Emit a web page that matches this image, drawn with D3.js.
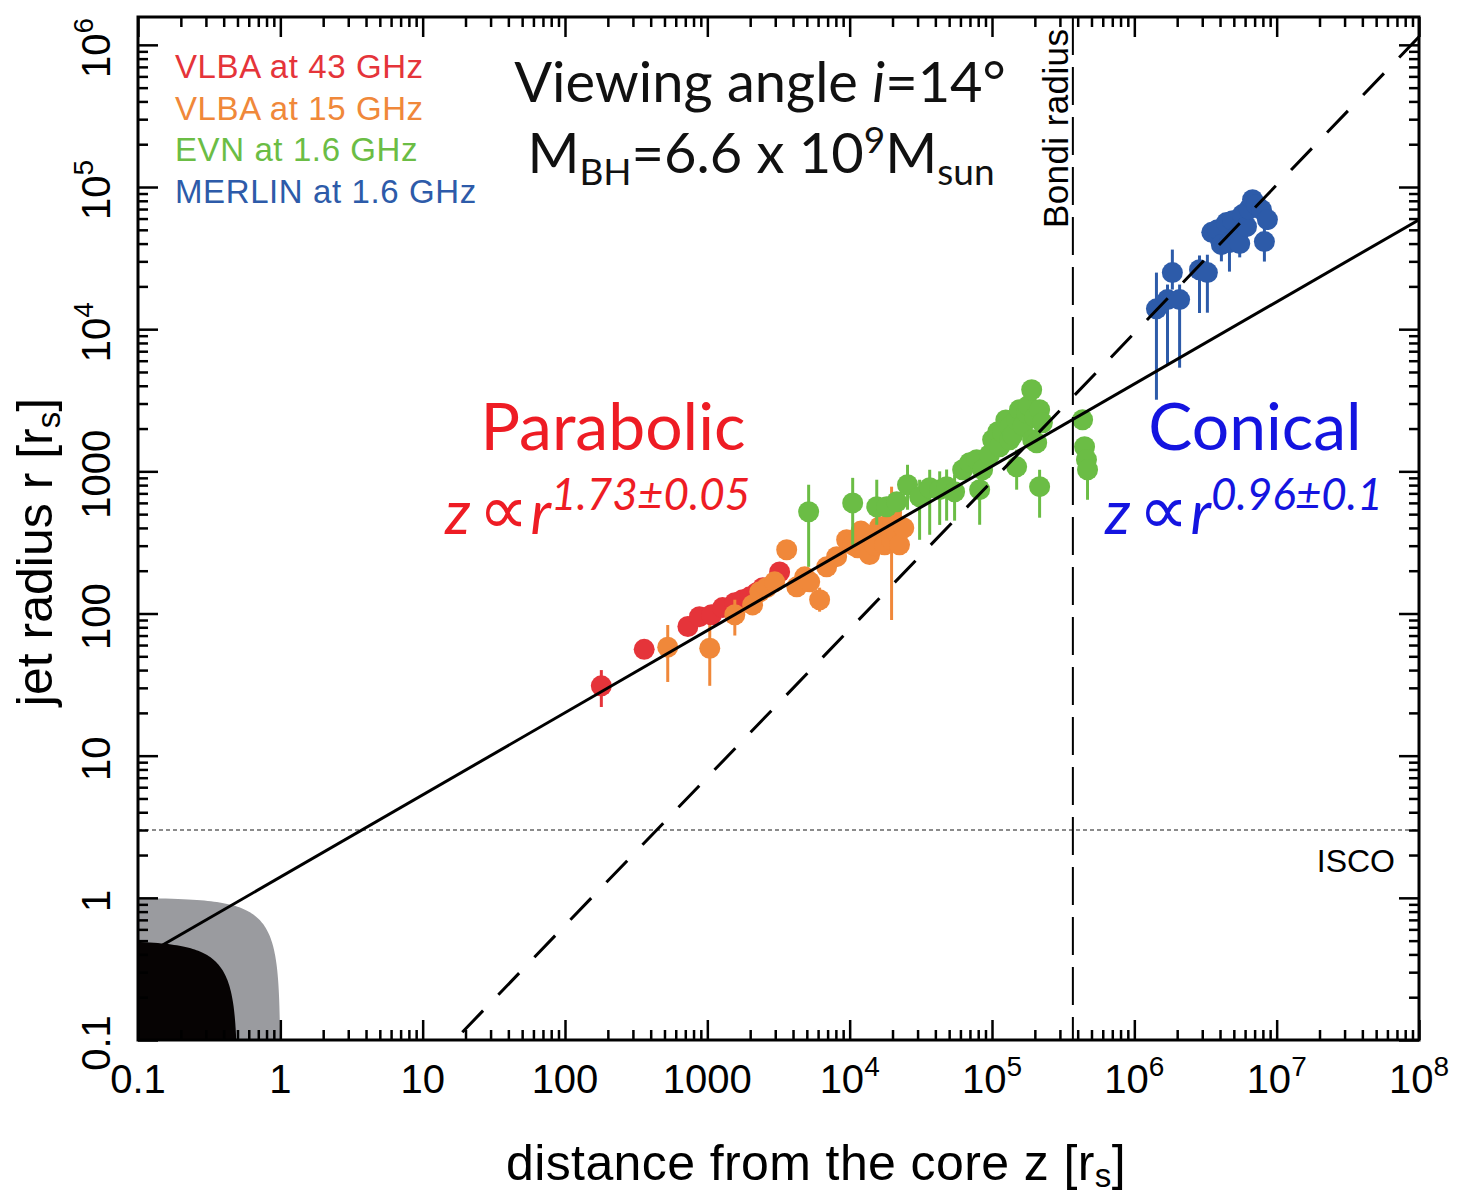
<!DOCTYPE html>
<html>
<head>
<meta charset="utf-8">
<script src="https://cdn.jsdelivr.net/npm/d3@7"></script>
<style>
body { margin: 0; background: #fff; }
</style>
</head>
<body>
<svg width="1462" height="1197"></svg>
<script>
// [z, r, r_low, r_high]  (z, r in units of r_s)
const vlba43 = [
  [180, 31, 22, 40], [360, 56, 50, 62], [730, 81, 75, 88], [880, 95, 88, 102],
  [1070, 98, 90, 106], [1280, 110, 102, 118], [1560, 119, 110, 128], [1770, 125, 116, 134],
  [1990, 131, 122, 140], [2220, 140, 130, 150], [2450, 152, 142, 162], [3220, 196, 182, 210]
];
const vlba15 = [
  [527, 58, 33, 83], [1040, 57, 31, 83], [1560, 98, 70, 125], [2080, 115, 100, 130],
  [2335, 142, 130, 155], [2610, 152, 140, 165], [2970, 167, 155, 180], [3610, 281, 260, 300],
  [4250, 154, 140, 168], [4830, 181, 165, 198], [5240, 167, 150, 185], [6150, 125, 103, 152],
  [6890, 213, 195, 232], [8100, 251, 230, 272], [9520, 330, 300, 360], [10500, 304, 280, 330],
  [11400, 290, 265, 315], [12000, 380, 350, 410], [13150, 358, 330, 390], [13800, 260, 240, 280],
  [14500, 330, 300, 360], [15000, 300, 275, 325], [16250, 408, 375, 440], [17600, 304, 280, 330],
  [18500, 420, 390, 450], [19700, 330, 90, 780], [19700, 510, 470, 550], [20000, 456, 420, 495],
  [21400, 370, 340, 400], [22400, 304, 280, 330], [24000, 400, 370, 430]
];
const evn16 = [
  [5150, 520, 213, 805], [10500, 600, 304, 900], [15500, 564, 421, 873], [18200, 564, 480, 660],
  [21400, 611, 520, 700], [25500, 805, 537, 1112], [31000, 662, 330, 873], [36500, 767, 358, 1026],
  [42900, 743, 420, 1000], [48000, 780, 450, 1030], [54600, 719, 450, 950], [62200, 1026, 900, 1150],
  [69700, 1151, 1000, 1300], [78000, 1208, 1050, 1350], [81900, 743, 421, 1026], [85900, 1026, 900, 1150],
  [96000, 1309, 1150, 1450], [101000, 1667, 1500, 1850], [110000, 1900, 1700, 2100], [113000, 1489, 1300, 1650],
  [118600, 1871, 1650, 2100], [125000, 2300, 2100, 2500], [133000, 2061, 1850, 2300], [133000, 1667, 1500, 1850],
  [140000, 1800, 1600, 2000], [149000, 2308, 2100, 2550], [149000, 1076, 743, 1419], [156000, 2716, 2450, 3000],
  [165000, 2100, 1900, 2300], [175000, 2585, 2300, 2850], [180000, 2900, 2600, 3200], [190000, 3750, 3400, 4100],
  [193000, 1667, 1450, 1900], [200000, 2400, 2150, 2650], [206000, 1588, 1400, 1800], [216000, 2716, 2450, 3000],
  [216000, 780, 472, 1026], [226000, 2198, 1950, 2450],
  [433000, 2308, 2100, 2550], [447000, 1489, 1300, 1650], [461000, 1208, 1050, 1350], [469000, 1026, 631, 1309]
];
const merlin16 = [
  [1.43e6, 13900, 3190, 25000], [1.71e6, 16150, 5620, 20600], [1.85e6, 25000, 19000, 36300],
  [2.08e6, 16150, 5360, 20600], [2.87e6, 26200, 13000, 33000], [3.26e6, 25000, 13060, 33400],
  [3.5e6, 48000, 40000, 56000], [3.84e6, 50100, 42000, 58000], [4.09e6, 39300, 30000, 46000],
  [4.44e6, 56200, 48000, 64000], [4.66e6, 40600, 25400, 51800], [4.9e6, 58000, 50000, 66000],
  [5.23e6, 44800, 36000, 52000], [5.5e6, 40000, 32000, 48000], [5.75e6, 64000, 55000, 72000],
  [6.14e6, 52600, 44000, 60000], [6.4e6, 70000, 60000, 80000], [6.77e6, 81500, 70000, 92000],
  [7.2e6, 75000, 65000, 85000], [7.82e6, 69300, 60000, 78000], [8.61e6, 59000, 50000, 68000],
  [8.2e6, 41300, 29900, 54300]
];

const seriesNames = ['VLBA at 43 GHz', 'VLBA at 15 GHz', 'EVN at 1.6 GHz', 'MERLIN at 1.6 GHz'];
const seriesColors = ['#e5343a', '#f0883a', '#6bbd45', '#2d5ba9'];

const xTicks = [0.1, 1, 10, 100, 1000, 1e4, 1e5, 1e6, 1e7, 1e8];
const xTickLabels = [['0.1'], ['1'], ['10'], ['100'], ['1000'], ['10', '4'], ['10', '5'], ['10', '6'], ['10', '7'], ['10', '8']];
const yTicks = [0.1, 1, 10, 100, 1000, 1e4, 1e5, 1e6];
const yTickLabels = [['0.1'], ['1'], ['10'], ['100'], ['1000'], ['10', '4'], ['10', '5'], ['10', '6']];

// fits: r = a * z^k
const parabolicFit = { a: 1.4, k: 0.578 };
const conicalFit = { a: 0.00528, k: 1.0417 };
const bondiRadius = 3.7e5;
const iscoRadius = 3;
const bhRadii = [1, 0.5];   // grey, black

const pL = 138, pR = 1419, pT = 17, pB = 1040;
const arial = 'Liberation Sans, Arial, Helvetica, sans-serif';
const calib = 'Lato, "Open Sans", sans-serif';

const svg = d3.select('svg');
svg.append('rect').attr('width', 1462).attr('height', 1197).attr('fill', '#fff');

const x = d3.scaleLog().domain([0.1, 1e8]).range([pL, pR]);
const y = d3.scaleLog().domain([0.1, 1.57e6]).range([pB, pT]);
const xc = x.copy().clamp(true);
const yc = y.copy().clamp(true);

svg.append('clipPath').attr('id', 'plot')
  .append('rect').attr('x', pL).attr('y', pT).attr('width', pR - pL).attr('height', pB - pT);

const plot = svg.append('g').attr('clip-path', 'url(#plot)');

// ISCO line
plot.append('line')
  .attr('x1', pL).attr('x2', pR)
  .attr('y1', y(iscoRadius)).attr('y2', y(iscoRadius))
  .attr('stroke', '#666').attr('stroke-width', 1.5).attr('stroke-dasharray', '4,3');

// black hole regions (circles in linear space drawn on log axes)
const quarter = d3.range(0, 91, 1).map(a => a * Math.PI / 180);
function bhPath(R) {
  const pts = [[0.1, 0.1]].concat(quarter.map(t => [Math.max(R * Math.cos(t), 1e-4), Math.max(R * Math.sin(t), 1e-4)]));
  return d3.line().x(d => xc(d[0])).y(d => yc(d[1]))(pts) + 'Z';
}
plot.append('path').attr('d', bhPath(bhRadii[0])).attr('fill', '#9a9b9f');

// data points
const allSeries = [vlba43, vlba15, evn16, merlin16];
allSeries.forEach((s, i) => {
  const g = plot.append('g');
  g.selectAll('line').data(s.filter(d => d[2] !== d[3])).join('line')
    .attr('x1', d => x(d[0])).attr('x2', d => x(d[0]))
    .attr('y1', d => y(d[2])).attr('y2', d => y(d[3]))
    .attr('stroke', seriesColors[i]).attr('stroke-width', 3);
  g.selectAll('circle').data(s).join('circle')
    .attr('cx', d => x(d[0])).attr('cy', d => y(d[1])).attr('r', 10.5)
    .attr('fill', seriesColors[i]);
});

// fit lines
function fitLine(f) {
  const zs = x.domain();
  return d3.line().x(d => x(d)).y(d => y(f.a * Math.pow(d, f.k)))(zs);
}
plot.append('path').attr('d', fitLine(parabolicFit))
  .attr('fill', 'none').attr('stroke', '#000').attr('stroke-width', 3);
plot.append('path').attr('d', fitLine(conicalFit))
  .attr('fill', 'none').attr('stroke', '#000').attr('stroke-width', 3).attr('stroke-dasharray', '30,22');

// Bondi radius
plot.append('line')
  .attr('x1', x(bondiRadius)).attr('x2', x(bondiRadius))
  .attr('y1', pT).attr('y2', pB)
  .attr('stroke', '#000').attr('stroke-width', 2).attr('stroke-dasharray', '38,12');

plot.append('path').attr('d', bhPath(bhRadii[1])).attr('fill', '#060303');

// frame + ticks
function minors(lo, hi) {
  const t = [];
  for (let e = lo; e < hi; e++) for (let m = 2; m < 10; m++) t.push(m * Math.pow(10, e));
  return t;
}
function ticks(axis, tr, vals, size) {
  svg.append('g').attr('transform', tr)
    .call(axis.tickValues(vals).tickSize(-size).tickFormat(''))
    .call(g => g.select('.domain').remove())
    .selectAll('line').attr('stroke', '#000').attr('stroke-width', 2.5);
}
const xMinor = minors(-1, 8), yMinor = minors(-1, 6);
ticks(d3.axisBottom(x), `translate(0,${pB})`, xTicks, 20);
ticks(d3.axisBottom(x), `translate(0,${pB})`, xMinor, 10);
ticks(d3.axisTop(x), `translate(0,${pT})`, xTicks, 20);
ticks(d3.axisTop(x), `translate(0,${pT})`, xMinor, 10);
ticks(d3.axisLeft(y), `translate(${pL},0)`, yTicks, 20);
ticks(d3.axisLeft(y), `translate(${pL},0)`, yMinor, 10);
ticks(d3.axisRight(y), `translate(${pR},0)`, yTicks, 20);
ticks(d3.axisRight(y), `translate(${pR},0)`, yMinor, 10);

svg.append('rect').attr('x', pL).attr('y', pT).attr('width', pR - pL).attr('height', pB - pT)
  .attr('fill', 'none').attr('stroke', '#000').attr('stroke-width', 3);

// tick labels
function label(sel, parts) {
  sel.append('tspan').text(parts[0]);
  if (parts[1]) sel.append('tspan').attr('dy', -17).attr('font-size', 28).text(parts[1]);
}
svg.append('g').attr('font-family', arial).attr('font-size', 40)
  .selectAll('text').data(xTicks).join('text')
  .attr('x', d => x(d)).attr('y', 1093).attr('text-anchor', 'middle')
  .each(function (d, i) { label(d3.select(this), xTickLabels[i]); });

svg.append('g').attr('font-family', arial).attr('font-size', 40)
  .selectAll('text').data(yTicks).join('text')
  .attr('transform', d => `translate(110,${y(d) + 3}) rotate(-90)`).attr('text-anchor', 'middle')
  .each(function (d, i) { label(d3.select(this), yTickLabels[i]); });

// axis titles
const xt = svg.append('text').attr('x', 816).attr('y', 1180).attr('text-anchor', 'middle')
  .attr('font-family', arial).attr('font-size', 50).attr('letter-spacing', 0.4);
xt.append('tspan').text('distance from the core z [r');
xt.append('tspan').attr('font-size', 33).attr('dy', 7).text('s');
xt.append('tspan').attr('dy', -7).text(']');

const yt = svg.append('text').attr('transform', 'translate(52,552) rotate(-90)').attr('text-anchor', 'middle')
  .attr('font-family', arial).attr('font-size', 50);
yt.append('tspan').text('jet radius r [r');
yt.append('tspan').attr('font-size', 33).attr('dy', 8).text('s');
yt.append('tspan').attr('dy', -8).text(']');

// legend
svg.append('g').attr('font-family', arial).attr('font-size', 33).attr('letter-spacing', 0.6)
  .selectAll('text').data(seriesNames).join('text')
  .attr('x', 175).attr('y', (d, i) => 78 + i * 41.7)
  .attr('fill', (d, i) => seriesColors[i]).text(d => d);

// annotations
svg.append('text').attr('transform', `translate(1068,228) rotate(-90)`)
  .attr('font-family', arial).attr('font-size', 35).attr('letter-spacing', 0.4).text('Bondi radius');
svg.append('text').attr('x', 1395).attr('y', 872).attr('text-anchor', 'end')
  .attr('font-family', arial).attr('font-size', 32).text('ISCO');

const t1 = svg.append('text').attr('x', 760).attr('y', 102).attr('text-anchor', 'middle')
  .attr('font-family', calib).attr('font-size', 56).attr('fill', '#111');
t1.append('tspan').text('Viewing angle ');
t1.append('tspan').attr('font-style', 'italic').text('i');
t1.append('tspan').text('=14°');

const t2 = svg.append('text').attr('x', 761).attr('y', 173).attr('text-anchor', 'middle')
  .attr('font-family', calib).attr('font-size', 56).attr('fill', '#111');
t2.append('tspan').text('M');
t2.append('tspan').attr('font-size', 37).attr('dy', 12).text('BH');
t2.append('tspan').attr('dy', -12).text('=6.6 x 10');
t2.append('tspan').attr('font-size', 37).attr('dy', -20).text('9');
t2.append('tspan').attr('dy', 20).text('M');
t2.append('tspan').attr('font-size', 37).attr('dy', 12).text('sun');

svg.append('text').attr('x', 613).attr('y', 450).attr('text-anchor', 'middle')
  .attr('font-family', calib).attr('font-size', 66).attr('fill', '#ee1c24').text('Parabolic');
svg.append('text').attr('x', 1255).attr('y', 450).attr('text-anchor', 'middle')
  .attr('font-family', calib).attr('font-size', 66).attr('fill', '#1414e0').text('Conical');

function formula(xp, color, exp) {
  const t = svg.append('text').attr('x', xp).attr('y', 534)
    .attr('font-family', calib).attr('font-size', 60).attr('font-style', 'italic').attr('fill', color);
  t.append('tspan').text('z');
  t.append('tspan').attr('dx', 8).attr('font-size', 70).attr('font-style', 'normal')
    .attr('font-family', 'DejaVu Sans, sans-serif').text('∝');
  t.append('tspan').attr('dx', 2).text('r');
  t.append('tspan').attr('font-size', 44).attr('dy', -24).text(exp);
}
formula(445, '#ee1c24', '1.73±0.05');
formula(1105, '#1414e0', '0.96±0.1');
</script>
</body>
</html>
